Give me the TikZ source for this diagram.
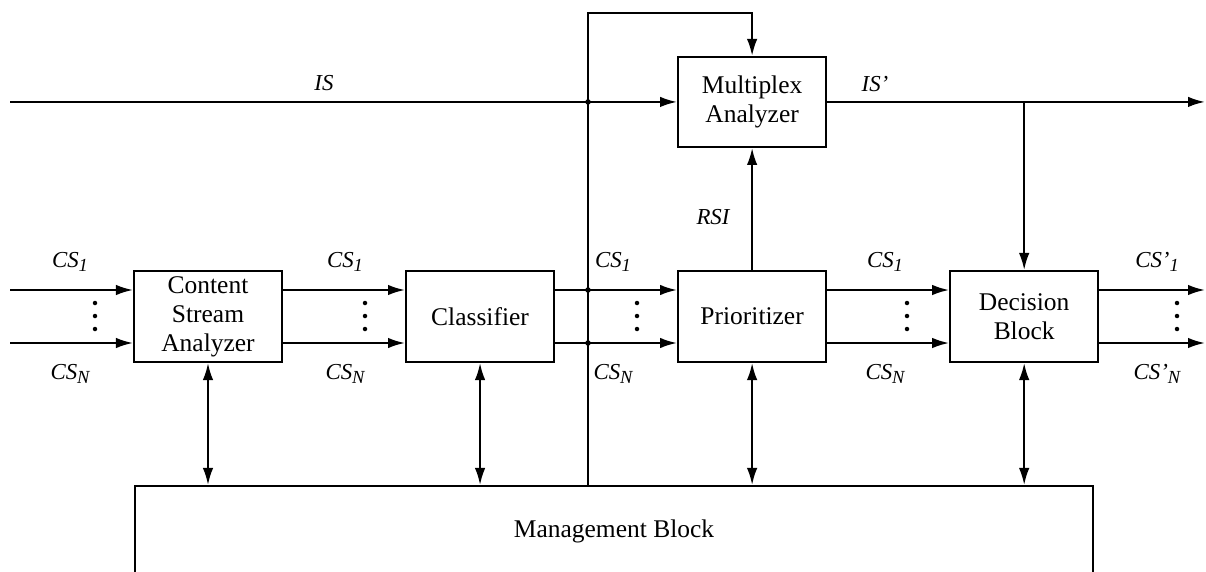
\documentclass[tikz,border=0pt]{standalone}
\usepackage{fontspec}
\setmainfont{Liberation Serif}
\usetikzlibrary{arrows.meta,positioning}
\newcommand{\idx}[1]{\raisebox{-0.4ex}{\fontsize{10.5}{10.5}\selectfont\itshape #1}}

\begin{document}
\begin{tikzpicture}[
  x=0.02cm, y=-0.02cm,
  node distance=2.44cm,
  font=\fontsize{14.5}{16.5}\selectfont,
  box/.style={rectangle, draw, line width=1.2pt, align=center, minimum width=2.96cm, minimum height=1.82cm, inner sep=0pt},
  arr/.style={-{Latex[length=0.34cm,width=0.21cm]}, line width=1.2pt},
  dblarr/.style={{Latex[length=0.34cm,width=0.21cm]}-{Latex[length=0.34cm,width=0.21cm]}, line width=1.2pt},
  lbl/.style={font=\fontsize{13}{15}\selectfont\itshape, inner sep=0pt},
  junc/.style={circle, fill, inner sep=0pt, minimum size=0.11cm}
]
\useasboundingbox (0,0) rectangle (1206,571);

% blocks
\node[box] (csa) at (208,316.5) {Content\\Stream\\Analyzer};
\node[box, right=of csa] (cls) {Classifier};
\node[box, right=of cls] (pri) {Prioritizer};
\node[box, right=of pri] (dec) {Decision\\Block};
\node[box, above=of pri, minimum height=1.8cm] (mux) {Multiplex\\Analyzer};
\node[draw, line width=1.2pt, minimum width=19.16cm, minimum height=1.8cm] (mgmt) at (614,531) {Management Block};

% free ends
\coordinate (isin) at (10,104);
\coordinate (isout) at (1205,104);
\coordinate (loop) at (588,13);
\coordinate (in1) at (10,290);
\coordinate (inN) at (10,343);
\coordinate (out1) at (1205,290);
\coordinate (outN) at (1205,343);

% stream lines
\draw[arr] (isin |- mux.west) -- (mux.west);
\draw[arr] (mux.east) -- (isout |- mux.east);
\draw[arr] (dec.north |- mux.east) -- (dec.north);
\draw[arr] (pri.north) -- (mux.south);
\draw[arr] (in1) -- (in1 -| csa.west);
\draw[arr] (inN) -- (inN -| csa.west);
\foreach \a/\b in {csa/cls,cls/pri,pri/dec} {
  \draw[arr] (in1 -| \a.east) -- (in1 -| \b.west);
  \draw[arr] (inN -| \a.east) -- (inN -| \b.west);
}
\draw[arr] (in1 -| dec.east) -- (out1);
\draw[arr] (inN -| dec.east) -- (outN);

% management links
\draw[arr] (loop |- mgmt.north) -- (loop) -| (mux.north);
\foreach \b in {csa,cls,pri,dec}
  \draw[dblarr] (\b.south) -- (\b.south |- mgmt.north);

\node[junc] (j1) at (loop |- mux.west) {};
\node[junc] (j2) at (loop |- in1) {};
\node[junc] (j3) at (loop |- inN) {};

% vertical dots
\foreach \x in {95,365,637,907,1177}
  \foreach \y in {303,316,329}
    \fill (\x,\y) circle (0.045cm);

% labels
\node[lbl] (lis) at (324,83) {IS};
\node[lbl] (lisp) at (875,84) {IS’};
\node[lbl] (lrsi) at (713,217) {RSI};
\foreach \x/\n in {70/a,345/b,613/c,885/d} {
  \node[lbl] (csone\n) at (\x,262) {CS\idx{1}};
  \node[lbl] (cslast\n) at (\x,374) {CS\idx{N}};
}
\node[lbl] (csoneout) at (1157,262) {CS’\idx{1}};
\node[lbl] (cslastout) at (1157,374) {CS’\idx{N}};
\end{tikzpicture}
\end{document}
